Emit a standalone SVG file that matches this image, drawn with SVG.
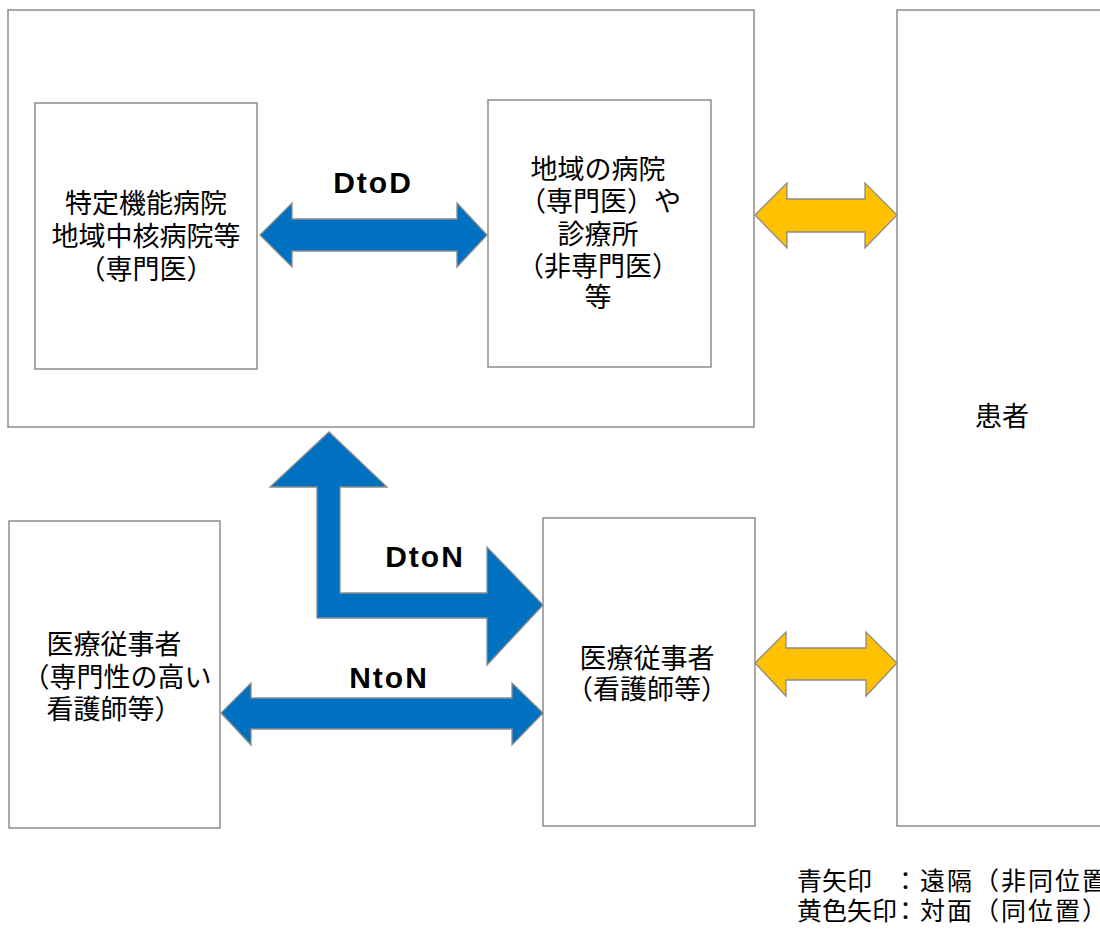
<svg xmlns="http://www.w3.org/2000/svg" width="1100" height="930" viewBox="0 0 1100 930">
<style>
.box{fill:#fff;stroke:#8c8c8c;stroke-width:1.5}
.jp{font-family:"Liberation Sans","Noto Sans CJK JP",sans-serif;font-size:27px;fill:#000;text-anchor:middle}
.lbl{font-family:"Liberation Sans",Arial,sans-serif;font-weight:bold;font-size:30px;letter-spacing:2px;fill:#000;text-anchor:middle}
.blue{fill:#0070C0;stroke:#8c8c8c;stroke-width:1.3;stroke-linejoin:miter}
.yel{fill:#FFC000;stroke:#8c8c8c;stroke-width:1.3}
.leg{font-family:"Liberation Sans","Noto Sans CJK JP",sans-serif;font-size:25px;fill:#000}
.leg2{letter-spacing:2px}
</style>
<rect width="1100" height="930" fill="#fff"/>
<g id="group-hospitals">
<rect class="box" x="8" y="10" width="746" height="417"/>
</g>
<g id="node-specialist-hospital">
<rect class="box" x="35" y="103" width="222" height="266"/>
<text class="jp" x="146" y="213">特定機能病院</text>
<text class="jp" x="146" y="246">地域中核病院等</text>
<text class="jp" x="146" y="279">（専門医）</text>
</g>
<g id="node-local-hospital">
<rect class="box" x="488" y="100" width="223" height="267"/>
<text class="jp" x="598" y="179">地域の病院</text>
<text class="jp" x="600" y="211">（専門医）や</text>
<text class="jp" x="598" y="244">診療所</text>
<text class="jp" x="598" y="276">（非専門医）</text>
<text class="jp" x="598" y="307">等</text>
</g>
<g id="node-patient">
<rect class="box" x="897" y="10" width="215" height="816"/>
<text class="jp" x="1002" y="426">患者</text>
</g>
<g id="node-specialist-nurse">
<rect class="box" x="9" y="521" width="211" height="307"/>
<text class="jp" x="114" y="654">医療従事者</text>
<text class="jp" x="117" y="687">（専門性の高い</text>
<text class="jp" x="114" y="719">看護師等）</text>
</g>
<g id="node-nurse">
<rect class="box" x="543" y="518" width="212" height="308"/>
<text class="jp" x="647" y="668">医療従事者</text>
<text class="jp" x="647" y="699">（看護師等）</text>
</g>
<g id="connectors">
<polygon class="blue" points="260,235 292,203 292,219 457,219 457,203 487,235 457,267 457,251 292,251 292,267"/>
<text class="lbl" x="373" y="193">DtoD</text>
<polygon class="blue" points="543,605 487,665 487,618 317,618 317,487 270,487 329,432 387,487 340,487 340,593 487,593 487,547"/>
<text class="lbl" x="425" y="567">DtoN</text>
<polygon class="blue" points="221,713 251,683 251,698 512,698 512,683 543,713 512,745 512,729 251,729 251,745"/>
<text class="lbl" x="389" y="688">NtoN</text>
<polygon class="yel" points="755,215 787,183 787,199 865,199 865,183 897,215 865,248 865,232 787,232 787,248"/>
<polygon class="yel" points="755,663 786,632 786,648 866,648 866,632 897,663 866,696 866,680 786,680 786,696"/>
</g>
<g id="legend">
<text class="leg" y="890"><tspan x="797">青矢印</tspan><tspan class="leg2" x="893">：遠隔（非同位置）</tspan></text>
<text class="leg" y="920"><tspan x="797">黄色矢印</tspan><tspan class="leg2" x="893">：対面（同位置）</tspan></text>
</g>
</svg>
